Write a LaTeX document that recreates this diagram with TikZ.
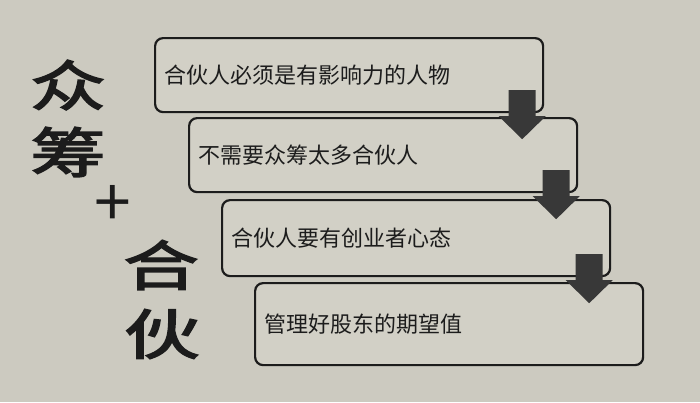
\documentclass[tikz,border=0pt]{standalone}
\usepackage{fontspec}
\setmainfont{Noto Sans CJK SC}
\newfontfamily\cjkbig{Noto Sans CJK SC}[FakeBold=2.5]
\usepackage{tikz}
\usetikzlibrary{calc}
\definecolor{paper}{HTML}{CCCAC0}
\definecolor{boxfill}{HTML}{D2D0C6}
\definecolor{ink}{HTML}{1C1C1C}
\definecolor{arrowfill}{HTML}{383838}

\begin{document}
\begin{tikzpicture}[x=1pt, y=-1pt,
                    stepbox/.style={draw=ink, line width=2.2pt, rounded corners=8pt, fill=boxfill,
                                    anchor=north west, inner xsep=9pt, text width=370pt,
                                    minimum height=74pt, align=left, text=ink,
                                    font=\fontsize{22}{26}\selectfont},
                    bigchar/.style={text=ink, xscale=1.4, inner sep=0pt,
                                    font=\cjkbig\fontsize{54}{60}\selectfont}]
\fill[paper] (0,0) rectangle (700,402);
\useasboundingbox (0,0) rectangle (700,402);
% title on the left
\node[bigchar] (zhong) at (68,85) {众};
\node[bigchar] (chou) at (68,152) {筹};
\node[text=ink, inner sep=0pt, font=\fontsize{66}{66}\selectfont] (plus) at (113,206) {+};
\node[bigchar] (he) at (161,265) {合};
\node[bigchar] (huo) at (162,334) {伙};
% steps
\node[stepbox] (b1) at (154,37) {合伙人必须是有影响力的人物};
\node[stepbox] (b2) at (188,117) {不需要众筹太多合伙人};
\node[stepbox, minimum height=76pt] (b3) at (221,199) {合伙人要有创业者心态};
\node[stepbox, minimum height=82pt] (b4) at (254,282) {管理好股东的期望值};
% block arrows between the steps
\foreach \a in {b1,b2,b3}
  \fill[arrowfill] ($(\a.south east)+(-35.5,-23)$) -- ++(27,0) -- ++(0,26) -- ++(10,0)
    -- ($(\a.south east)+(-22,26)$) -- ($(\a.south east)+(-45.5,3)$) -- ++(10,0) -- cycle;
\end{tikzpicture}
\end{document}
